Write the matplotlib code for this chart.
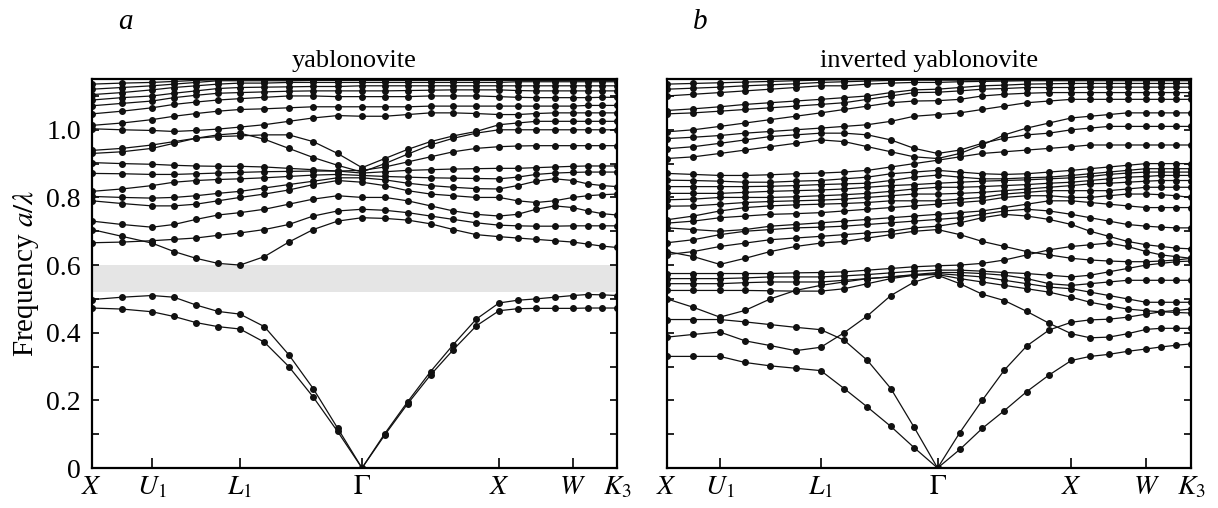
# -*- coding: utf-8 -*-
"""
Photonic band structure: yablonovite / inverted yablonovite
"""
import matplotlib
matplotlib.use('Agg')
import matplotlib.pyplot as plt
from matplotlib.ticker import MultipleLocator
import numpy as np

plt.rcParams['font.family'] = ['Liberation Serif', 'DejaVu Serif']
plt.rcParams['mathtext.fontset'] = 'stix'

# high-symmetry points, positions along the path (relative units, per panel)
sym_labels = ['$X$', '$U_1$', '$L_1$', r'$\Gamma$', '$X$', '$W$', '$K_3$']
sym_pos_a = [0, 60, 148, 270, 407, 481, 525]
sym_pos_b = [0, 53, 154, 271, 405, 480, 525]
seg_steps = [2, 4, 5, 6, 4, 3]   # k-points per segment

gap_a = (0.52, 0.60)

# panel a: yablonovite, one list per band (25 k-points)
a01 = [.473, .470, .462, .448, .430, .418, .411, .372, .300, .210, .108, .000, .098, .190, .275, .350, .420, .465, .471, .472, .472, .472, .473, .473, .473]
a02 = [.498, .505, .510, .505, .482, .463, .455, .418, .335, .235, .118, .000, .102, .196, .285, .365, .440, .488, .496, .500, .505, .510, .513, .512, .510]
a03 = [.705, .685, .665, .640, .620, .605, .600, .625, .668, .705, .730, .740, .738, .733, .722, .705, .690, .684, .680, .676, .672, .668, .662, .656, .652]
a04 = [.666, .668, .672, .676, .680, .688, .695, .705, .720, .745, .760, .765, .762, .755, .745, .735, .725, .718, .716, .715, .715, .716, .716, .716, .716]
a05 = [.730, .720, .712, .720, .735, .748, .755, .765, .780, .795, .805, .800, .800, .790, .775, .760, .750, .745, .750, .765, .775, .770, .760, .752, .748]
a06 = [.790, .782, .775, .775, .780, .790, .800, .810, .822, .838, .850, .845, .835, .820, .810, .805, .800, .800, .790, .785, .790, .800, .805, .808, .810]
a07 = [.803, .800, .798, .800, .805, .812, .818, .828, .838, .848, .858, .858, .852, .842, .835, .830, .826, .825, .835, .848, .855, .850, .840, .835, .832]
a08 = [.818, .825, .835, .845, .850, .853, .855, .858, .862, .866, .868, .865, .862, .860, .858, .857, .856, .855, .860, .868, .872, .874, .875, .875, .875]
a09 = [.871, .870, .868, .868, .870, .872, .874, .876, .877, .878, .878, .872, .876, .880, .882, .884, .885, .886, .886, .888, .890, .892, .893, .893, .893]
a10 = [.903, .900, .898, .895, .893, .892, .892, .890, .886, .882, .878, .880, .890, .905, .920, .935, .945, .950, .952, .953, .953, .953, .953, .953, .953]
a11 = [.930, .935, .945, .960, .975, .985, .990, .972, .945, .918, .895, .875, .900, .928, .955, .975, .990, 1.00, 1.00, 1.00, 1.00, 1.00, 1.00, 1.00, 1.00]
a12 = [.939, .945, .955, .965, .975, .980, .982, .985, .985, .965, .930, .888, .915, .942, .965, .982, .995, 1.015, 1.020, 1.025, 1.025, 1.025, 1.025, 1.025, 1.025]
a13 = [1.003, 1.000, .998, .995, .998, 1.002, 1.008, 1.015, 1.025, 1.035, 1.042, 1.040, 1.040, 1.045, 1.050, 1.050, 1.048, 1.045, 1.045, 1.048, 1.050, 1.050, 1.050, 1.050, 1.050]
a14 = [1.013, 1.020, 1.030, 1.040, 1.048, 1.055, 1.060, 1.062, 1.065, 1.068, 1.068, 1.068, 1.068, 1.068, 1.070, 1.070, 1.070, 1.070, 1.070, 1.070, 1.070, 1.070, 1.072, 1.072, 1.072]
a15 = [1.047, 1.055, 1.065, 1.075, 1.082, 1.088, 1.092, 1.096, 1.100, 1.100, 1.098, 1.098, 1.098, 1.098, 1.100, 1.100, 1.100, 1.098, 1.096, 1.095, 1.095, 1.095, 1.095, 1.096, 1.096]
a16 = [1.071, 1.078, 1.085, 1.095, 1.102, 1.108, 1.110, 1.112, 1.114, 1.115, 1.115, 1.115, 1.115, 1.116, 1.117, 1.118, 1.118, 1.118, 1.116, 1.115, 1.115, 1.115, 1.115, 1.115, 1.115]
a17 = [1.088, 1.095, 1.100, 1.108, 1.115, 1.122, 1.125, 1.126, 1.127, 1.128, 1.128, 1.130, 1.130, 1.130, 1.130, 1.130, 1.130, 1.130, 1.130, 1.130, 1.130, 1.130, 1.130, 1.130, 1.130]
a18 = [1.104, 1.110, 1.118, 1.125, 1.130, 1.135, 1.138, 1.138, 1.140, 1.140, 1.140, 1.140, 1.140, 1.140, 1.140, 1.140, 1.140, 1.140, 1.142, 1.142, 1.142, 1.142, 1.142, 1.142, 1.142]
a19 = [1.120, 1.125, 1.130, 1.135, 1.140, 1.145, 1.145, 1.145, 1.145, 1.146, 1.146, 1.146, 1.146, 1.146, 1.146, 1.146, 1.146, 1.146, 1.146, 1.146, 1.146, 1.146, 1.146, 1.146, 1.146]
a20 = [1.135, 1.138, 1.140, 1.143, 1.146, 1.148, 1.148, 1.148, 1.148, 1.148, 1.148, 1.148, 1.148, 1.148, 1.148, 1.148, 1.148, 1.148, 1.148, 1.148, 1.148, 1.148, 1.148, 1.148, 1.148]
bands_a = [a01, a02, a03, a04, a05, a06, a07, a08, a09, a10,
           a11, a12, a13, a14, a15, a16, a17, a18, a19, a20]

# panel b: inverted yablonovite
b01 = [.330, .330, .330, .312, .302, .295, .288, .235, .180, .123, .060, .000, .055, .117, .170, .226, .275, .318, .330, .336, .345, .352, .358, .363, .367]
b02 = [.439, .439, .439, .432, .424, .416, .409, .378, .318, .235, .120, .000, .105, .200, .290, .361, .408, .431, .438, .440, .446, .455, .462, .466, .470]
b03 = [.387, .395, .402, .376, .362, .347, .357, .400, .450, .510, .550, .570, .545, .514, .495, .463, .428, .397, .385, .387, .397, .410, .413, .413, .413]
b04 = [.500, .475, .446, .466, .500, .525, .540, .550, .560, .565, .570, .572, .560, .550, .540, .530, .520, .505, .490, .480, .470, .465, .462, .460, .458]
b05 = [.525, .525, .525, .525, .524, .523, .523, .530, .545, .560, .570, .575, .570, .565, .555, .545, .535, .530, .520, .510, .500, .490, .490, .490, .490]
b06 = [.545, .545, .545, .548, .550, .550, .550, .555, .560, .565, .572, .578, .578, .575, .570, .560, .545, .540, .545, .550, .555, .555, .555, .555, .555]
b07 = [.560, .560, .560, .562, .565, .565, .565, .568, .572, .577, .582, .585, .585, .582, .578, .575, .570, .565, .570, .580, .590, .600, .605, .610, .612]
b08 = [.575, .575, .575, .575, .575, .577, .578, .580, .585, .590, .595, .598, .600, .605, .615, .630, .645, .655, .660, .665, .655, .640, .630, .625, .620]
b09 = [.640, .625, .602, .620, .640, .655, .665, .670, .680, .690, .700, .705, .690, .670, .655, .640, .630, .620, .615, .612, .610, .610, .612, .615, .620]
b10 = [.631, .640, .655, .665, .675, .680, .685, .690, .695, .700, .710, .715, .725, .740, .750, .745, .735, .720, .700, .685, .670, .660, .655, .650, .648]
b11 = [.666, .675, .690, .700, .705, .710, .712, .715, .720, .725, .730, .735, .740, .750, .760, .765, .760, .750, .740, .730, .720, .715, .712, .710, .710]
b12 = [.710, .705, .700, .705, .715, .720, .725, .730, .735, .740, .745, .750, .755, .760, .770, .780, .790, .790, .785, .780, .775, .770, .770, .770, .770]
b13 = [.724, .730, .740, .745, .750, .752, .755, .760, .765, .770, .775, .780, .785, .790, .800, .805, .805, .800, .800, .805, .810, .810, .808, .805, .800]
b14 = [.734, .745, .760, .770, .775, .778, .780, .782, .785, .790, .790, .790, .795, .800, .810, .815, .820, .820, .820, .820, .825, .830, .830, .830, .830]
b15 = [.774, .775, .780, .785, .788, .790, .792, .795, .800, .805, .810, .810, .812, .815, .820, .825, .830, .835, .840, .842, .845, .848, .850, .850, .850]
b16 = [.793, .795, .800, .800, .800, .802, .805, .808, .812, .818, .825, .830, .830, .832, .835, .838, .842, .845, .850, .855, .860, .862, .865, .865, .865]
b17 = [.812, .812, .812, .815, .818, .820, .822, .825, .830, .835, .838, .842, .845, .848, .850, .852, .855, .858, .862, .868, .872, .875, .875, .875, .875]
b18 = [.832, .832, .832, .832, .833, .835, .838, .840, .842, .850, .860, .866, .860, .855, .855, .858, .860, .865, .870, .875, .880, .885, .885, .885, .885]
b19 = [.851, .850, .848, .845, .845, .848, .850, .855, .860, .870, .875, .880, .875, .870, .868, .870, .875, .880, .885, .890, .895, .900, .900, .900, .900]
b20 = [.871, .868, .865, .865, .867, .870, .872, .875, .880, .890, .900, .910, .920, .930, .935, .940, .945, .950, .955, .955, .955, .955, .955, .955, .955]
b21 = [.915, .920, .930, .940, .950, .960, .970, .965, .950, .935, .920, .915, .930, .955, .985, 1.005, 1.020, 1.035, 1.040, 1.045, 1.050, 1.050, 1.050, 1.050, 1.050]
b22 = [.944, .950, .960, .970, .980, .985, .990, .990, .985, .970, .945, .930, .940, .960, .975, .985, .990, 1.000, 1.005, 1.010, 1.010, 1.010, 1.010, 1.010, 1.010]
b23 = [.974, .978, .983, .990, .995, 1.000, 1.005, 1.010, 1.015, 1.025, 1.040, 1.045, 1.050, 1.060, 1.070, 1.080, 1.085, 1.090, 1.090, 1.090, 1.090, 1.090, 1.090, 1.090, 1.090]
b24 = [.994, 1.000, 1.010, 1.020, 1.030, 1.040, 1.050, 1.060, 1.070, 1.080, 1.085, 1.086, 1.090, 1.100, 1.105, 1.108, 1.110, 1.110, 1.110, 1.110, 1.110, 1.110, 1.110, 1.110, 1.110]
b25 = [1.047, 1.050, 1.055, 1.060, 1.065, 1.070, 1.075, 1.080, 1.090, 1.100, 1.110, 1.111, 1.115, 1.120, 1.122, 1.125, 1.125, 1.125, 1.126, 1.126, 1.126, 1.126, 1.126, 1.126, 1.126]
b26 = [1.057, 1.062, 1.068, 1.075, 1.080, 1.085, 1.090, 1.095, 1.100, 1.110, 1.118, 1.120, 1.125, 1.130, 1.132, 1.135, 1.136, 1.137, 1.137, 1.137, 1.137, 1.137, 1.137, 1.137, 1.137]
b27 = [1.100, 1.105, 1.110, 1.115, 1.120, 1.125, 1.130, 1.130, 1.135, 1.138, 1.140, 1.140, 1.142, 1.143, 1.144, 1.145, 1.145, 1.145, 1.145, 1.145, 1.145, 1.145, 1.145, 1.145, 1.145]
b28 = [1.120, 1.123, 1.126, 1.130, 1.133, 1.136, 1.140, 1.142, 1.144, 1.146, 1.147, 1.147, 1.147, 1.147, 1.147, 1.147, 1.147, 1.147, 1.147, 1.147, 1.147, 1.147, 1.147, 1.147, 1.147]
b29 = [1.135, 1.137, 1.139, 1.141, 1.143, 1.145, 1.147, 1.148, 1.148, 1.148, 1.148, 1.148, 1.148, 1.148, 1.148, 1.148, 1.148, 1.148, 1.148, 1.148, 1.148, 1.148, 1.148, 1.148, 1.148]
bands_b = [b01, b02, b03, b04, b05, b06, b07, b08, b09, b10,
           b11, b12, b13, b14, b15, b16, b17, b18, b19, b20,
           b21, b22, b23, b24, b25, b26, b27, b28, b29]


def k_path(sym_pos, steps):
    """k-point positions along the path from the high-symmetry points"""
    pts = [sym_pos[0]]
    for i, n in enumerate(steps):
        seg = np.linspace(sym_pos[i], sym_pos[i + 1], n + 1)[1:]
        pts.extend(seg)
    return np.array(pts)


def draw_panel(ax, bands, sym_pos, title, gap=None):
    k = k_path(sym_pos, seg_steps)
    if gap is not None:
        ax.axhspan(gap[0], gap[1], color='#e5e5e5', lw=0, zorder=0)
    for band in bands:
        ax.plot(k, band, color='#111111', lw=0.9, marker='o', ms=4.0,
                mec='#111111', mfc='#111111', zorder=2, clip_on=True)
    ax.set_xlim(sym_pos[0], sym_pos[-1])
    ax.set_ylim(0, 1.15)
    ax.set_xticks(sym_pos)
    ax.set_xticklabels(sym_labels, fontsize=20)
    ax.yaxis.set_major_locator(MultipleLocator(0.2))
    ax.yaxis.set_minor_locator(MultipleLocator(0.1))
    ax.tick_params(axis='x', direction='in', length=7, width=1.2, pad=5, top=False)
    ax.tick_params(axis='y', which='both', direction='in', length=5, width=1.2,
                   left=True, right=True, labelsize=20, pad=8)
    for sp in ax.spines.values():
        sp.set_linewidth(1.6)
    ax.set_title(title, fontsize=19, pad=9)


fig = plt.figure(figsize=(12.18, 5.08), dpi=100)
# axes boxes in figure fractions (left, bottom, width, height)
ax_a = fig.add_axes([0.0755, 0.0787, 0.4311, 0.7657])
ax_b = fig.add_axes([0.5476, 0.0787, 0.4304, 0.7657])

draw_panel(ax_a, bands_a, sym_pos_a, 'yablonovite', gap=gap_a)
draw_panel(ax_b, bands_b, sym_pos_b, 'inverted yablonovite')

ax_a.yaxis.set_major_formatter(plt.FuncFormatter(lambda v, p: '0' if v == 0 else f'{v:.1f}'))
ax_a.set_ylabel(r'Frequency $a/\lambda$', fontsize=21, labelpad=4)
ax_b.set_yticklabels([])

fig.text(125 / 1218, 1 - 22 / 508, 'a', fontsize=21, style='italic', ha='center', va='center')
fig.text(700 / 1218, 1 - 22 / 508, 'b', fontsize=21, style='italic', ha='center', va='center')

fig.savefig('out.png', dpi=100)
